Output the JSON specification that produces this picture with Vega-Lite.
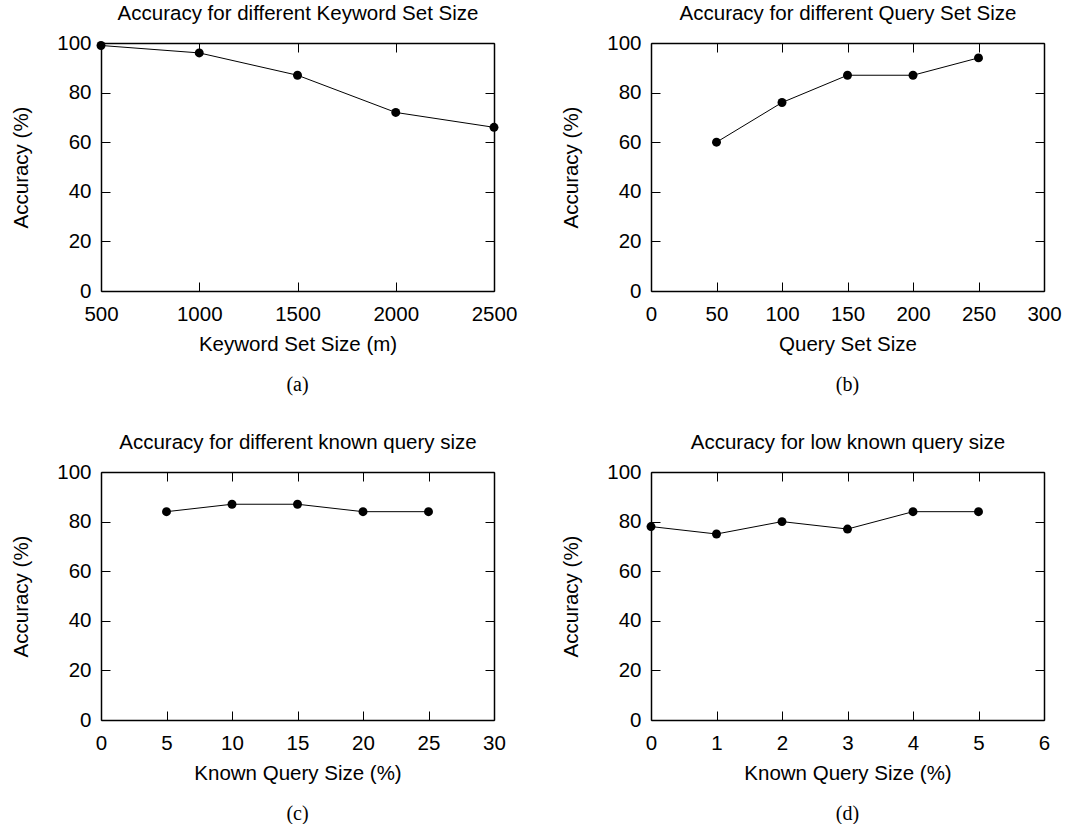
{
  "$schema": "https://vega.github.io/schema/vega-lite/v6.json",
  "padding": {"left": 11, "top": 3, "right": 0, "bottom": 0},
  "background": "white",
  "config": {
    "view": {"stroke": null},
    "font": "Liberation Sans",
    "axis": {
      "grid": false,
      "labelFont": "Liberation Sans",
      "labelFontSize": 20.5,
      "labelColor": "black",
      "titleFont": "Liberation Sans",
      "titleFontSize": 20.5,
      "titleFontWeight": "normal",
      "titleColor": "black",
      "domainColor": "black",
      "domainWidth": 1.5,
      "tickColor": "black",
      "tickWidth": 1,
      "tickSize": -9,
      "labelFlush": false,
      "labelOverlap": false,
      "format": "d"
    },
    "axisX": {"labelPadding": 22, "titlePadding": 10},
    "axisY": {"labelPadding": 19, "titlePadding": 25},
    "axisTop": {"titlePadding": 19},
    "title": {"font": "Liberation Serif", "fontSize": 20, "fontWeight": "normal", "color": "black"}
  },
  "bounds": "flush",
  "columns": 2,
  "spacing": {"row": 181, "column": 157},
  "concat": [
    {
      "width": 393, "height": 248,
      "title": {"text": "(a)", "orient": "bottom", "offset": 20},
      "data": {"values": [
        {"x": 500, "acc": 99}, {"x": 1000, "acc": 96}, {"x": 1500, "acc": 87}, {"x": 2000, "acc": 72}, {"x": 2500, "acc": 66}
      ]},
      "layer": [
        {"mark": {"type": "line", "color": "black", "strokeWidth": 1},
         "encoding": {
           "x": {"field": "x", "type": "quantitative", "scale": {"domain": [500, 2500], "nice": false}, "axis": {"orient": "bottom", "title": "Keyword Set Size (m)", "values": [500, 1000, 1500, 2000, 2500]}},
           "y": {"field": "acc", "type": "quantitative", "scale": {"domain": [0, 100], "nice": false}, "axis": {"orient": "left", "title": "Accuracy (%)", "values": [0, 20, 40, 60, 80, 100]}}
         }},
        {"mark": {"type": "point", "filled": true, "color": "black", "size": 80, "opacity": 1},
         "encoding": {
           "x": {"field": "x", "type": "quantitative", "axis": {"orient": "top", "labels": false, "title": "Accuracy for different Keyword Set Size", "values": [500, 1000, 1500, 2000, 2500]}},
           "y": {"field": "acc", "type": "quantitative", "axis": {"orient": "right", "labels": false, "title": null, "values": [0, 20, 40, 60, 80, 100]}}
         }}
      ],
      "resolve": {"axis": {"x": "independent", "y": "independent"}}
    },
    {
      "width": 393, "height": 248,
      "title": {"text": "(b)", "orient": "bottom", "offset": 20},
      "data": {"values": [
        {"x": 50, "acc": 60}, {"x": 100, "acc": 76}, {"x": 150, "acc": 87}, {"x": 200, "acc": 87}, {"x": 250, "acc": 94}
      ]},
      "layer": [
        {"mark": {"type": "line", "color": "black", "strokeWidth": 1},
         "encoding": {
           "x": {"field": "x", "type": "quantitative", "scale": {"domain": [0, 300], "nice": false}, "axis": {"orient": "bottom", "title": "Query Set Size", "values": [0, 50, 100, 150, 200, 250, 300]}},
           "y": {"field": "acc", "type": "quantitative", "scale": {"domain": [0, 100], "nice": false}, "axis": {"orient": "left", "title": "Accuracy (%)", "values": [0, 20, 40, 60, 80, 100]}}
         }},
        {"mark": {"type": "point", "filled": true, "color": "black", "size": 80, "opacity": 1},
         "encoding": {
           "x": {"field": "x", "type": "quantitative", "axis": {"orient": "top", "labels": false, "title": "Accuracy for different Query Set Size", "values": [0, 50, 100, 150, 200, 250, 300]}},
           "y": {"field": "acc", "type": "quantitative", "axis": {"orient": "right", "labels": false, "title": null, "values": [0, 20, 40, 60, 80, 100]}}
         }}
      ],
      "resolve": {"axis": {"x": "independent", "y": "independent"}}
    },
    {
      "width": 393, "height": 248,
      "title": {"text": "(c)", "orient": "bottom", "offset": 20},
      "data": {"values": [
        {"x": 5, "acc": 84}, {"x": 10, "acc": 87}, {"x": 15, "acc": 87}, {"x": 20, "acc": 84}, {"x": 25, "acc": 84}
      ]},
      "layer": [
        {"mark": {"type": "line", "color": "black", "strokeWidth": 1},
         "encoding": {
           "x": {"field": "x", "type": "quantitative", "scale": {"domain": [0, 30], "nice": false}, "axis": {"orient": "bottom", "title": "Known Query Size (%)", "values": [0, 5, 10, 15, 20, 25, 30]}},
           "y": {"field": "acc", "type": "quantitative", "scale": {"domain": [0, 100], "nice": false}, "axis": {"orient": "left", "title": "Accuracy (%)", "values": [0, 20, 40, 60, 80, 100]}}
         }},
        {"mark": {"type": "point", "filled": true, "color": "black", "size": 80, "opacity": 1},
         "encoding": {
           "x": {"field": "x", "type": "quantitative", "axis": {"orient": "top", "labels": false, "title": "Accuracy for different known query size", "values": [0, 5, 10, 15, 20, 25, 30]}},
           "y": {"field": "acc", "type": "quantitative", "axis": {"orient": "right", "labels": false, "title": null, "values": [0, 20, 40, 60, 80, 100]}}
         }}
      ],
      "resolve": {"axis": {"x": "independent", "y": "independent"}}
    },
    {
      "width": 393, "height": 248,
      "title": {"text": "(d)", "orient": "bottom", "offset": 20},
      "data": {"values": [
        {"x": 0, "acc": 78}, {"x": 1, "acc": 75}, {"x": 2, "acc": 80}, {"x": 3, "acc": 77}, {"x": 4, "acc": 84}, {"x": 5, "acc": 84}
      ]},
      "layer": [
        {"mark": {"type": "line", "color": "black", "strokeWidth": 1},
         "encoding": {
           "x": {"field": "x", "type": "quantitative", "scale": {"domain": [0, 6], "nice": false}, "axis": {"orient": "bottom", "title": "Known Query Size (%)", "values": [0, 1, 2, 3, 4, 5, 6]}},
           "y": {"field": "acc", "type": "quantitative", "scale": {"domain": [0, 100], "nice": false}, "axis": {"orient": "left", "title": "Accuracy (%)", "values": [0, 20, 40, 60, 80, 100]}}
         }},
        {"mark": {"type": "point", "filled": true, "color": "black", "size": 80, "opacity": 1},
         "encoding": {
           "x": {"field": "x", "type": "quantitative", "axis": {"orient": "top", "labels": false, "title": "Accuracy for low known query size", "values": [0, 1, 2, 3, 4, 5, 6]}},
           "y": {"field": "acc", "type": "quantitative", "axis": {"orient": "right", "labels": false, "title": null, "values": [0, 20, 40, 60, 80, 100]}}
         }}
      ],
      "resolve": {"axis": {"x": "independent", "y": "independent"}}
    }
  ]
}
